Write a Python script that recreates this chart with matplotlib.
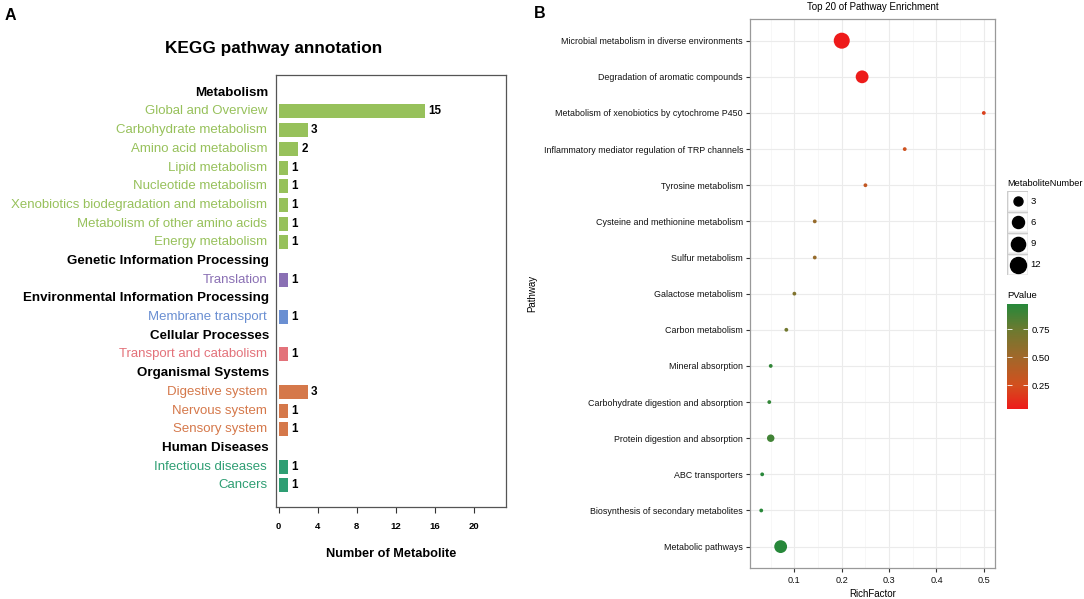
import numpy as np
import matplotlib
matplotlib.use('Agg')
import matplotlib.pyplot as plt
import matplotlib.transforms as mtransforms
from matplotlib.colors import LinearSegmentedColormap, Normalize
from matplotlib.cm import ScalarMappable
from matplotlib.patches import Rectangle

SANS = ['Liberation Sans', 'DejaVu Sans']

# ---- Panel A data: KEGG pathway annotation ----
kegg_labels = ['Metabolism', 'Global and Overview', 'Carbohydrate metabolism',
               'Amino acid metabolism', 'Lipid metabolism', 'Nucleotide metabolism',
               'Xenobiotics biodegradation and metabolism',
               'Metabolism of other amino acids', 'Energy metabolism',
               'Genetic Information Processing', 'Translation',
               'Environmental Information Processing', 'Membrane transport',
               'Cellular Processes', 'Transport and catabolism',
               'Organismal Systems', 'Digestive system', 'Nervous system',
               'Sensory system', 'Human Diseases', 'Infectious diseases', 'Cancers']
# None marks a class header row
kegg_counts = [None, 15, 3, 2, 1, 1, 1, 1, 1, None, 1, None, 1, None, 1,
               None, 3, 1, 1, None, 1, 1]
kegg_group = [0, 0, 0, 0, 0, 0, 0, 0, 0, 1, 1, 2, 2, 3, 3, 4, 4, 4, 4, 5, 5, 5]
group_colors = ['#97C15B', '#8A70B4', '#6A8FD2', '#E3727A', '#D5784A', '#2E9E73']
kegg_ticks = [0, 4, 8, 12, 16, 20]

# ---- Panel B data: pathway enrichment ----
pathways = ['Microbial metabolism in diverse environments',
            'Degradation of aromatic compounds',
            'Metabolism of xenobiotics by cytochrome P450',
            'Inflammatory mediator regulation of TRP channels',
            'Tyrosine metabolism', 'Cysteine and methionine metabolism',
            'Sulfur metabolism', 'Galactose metabolism', 'Carbon metabolism',
            'Mineral absorption', 'Carbohydrate digestion and absorption',
            'Protein digestion and absorption', 'ABC transporters',
            'Biosynthesis of secondary metabolites', 'Metabolic pathways']
rich_factor = [0.2, 0.243, 0.5, 0.333, 0.25, 0.143, 0.143, 0.1, 0.083,
               0.05, 0.047, 0.05, 0.032, 0.030, 0.071]
metab_number = [12, 7, 1, 1, 1, 1, 1, 1, 1, 1, 1, 2, 1, 1, 7]
p_value = [0.036, 0.045, 0.19, 0.27, 0.33, 0.55, 0.55, 0.65, 0.72,
           0.93, 0.93, 0.88, 0.96, 0.96, 0.97]
size_breaks = [3, 6, 9, 12]
p_breaks = [0.25, 0.50, 0.75]

W, H = 1084, 599
fig = plt.figure(figsize=(W / 100, H / 100), dpi=100)


def box(l, t, r, b):
    return [l / W, 1 - b / H, (r - l) / W, (b - t) / H]


# ================= Panel A =================
axA = fig.add_axes(box(276, 75, 506, 507))
trans = mtransforms.blended_transform_factory(axA.transAxes, axA.transData)
for i, (lab, val, g) in enumerate(zip(kegg_labels, kegg_counts, kegg_group)):
    if val is None:
        axA.text(-0.031, i, lab, transform=trans, ha='right', va='center',
                 fontsize=9.6, fontweight='bold', family=SANS, color='black')
    else:
        c = group_colors[g]
        axA.barh(i, val, height=0.75, color=c, left=0)
        axA.text(-0.039, i, lab, transform=trans, ha='right', va='center',
                 fontsize=9.5, family=SANS, color=c)
        axA.annotate(str(val), (val, i), xytext=(2.2, 0), textcoords='offset points',
                     ha='left', va='center', fontsize=8.4, fontweight='bold',
                     family=SANS, color='black')
axA.set_ylim(22.16, -0.95)
axA.set_xlim(-0.28, 23.3)
axA.set_yticks([])
axA.set_xticks(kegg_ticks)
axA.set_xticklabels([str(t) for t in kegg_ticks], fontsize=6.8, fontweight='bold',
                    family=SANS)
axA.tick_params(axis='x', length=4, width=0.8, pad=7, color='#333333')
for s in axA.spines.values():
    s.set_color('#555555')
    s.set_linewidth(0.9)
axA.set_xlabel('Number of Metabolite', fontsize=9.2, fontweight='bold',
               family=SANS, labelpad=12)
fig.text(274 / W, 1 - 48 / H, 'KEGG pathway annotation', ha='center', va='center',
         fontsize=12.4, fontweight='bold', family=SANS)
fig.text(5 / W, 1 - 15 / H, 'A', ha='left', va='center', fontsize=11.5,
         fontweight='bold', family=SANS)

# ================= Panel B =================
cmap = LinearSegmentedColormap.from_list(
    'pv', [(0.0, '#EE1A1A'), (0.23, '#D2501E'), (0.5, '#A0682A'),
           (0.76, '#6C7A30'), (1.0, '#27883A')])
norm = Normalize(vmin=min(p_value), vmax=max(p_value))


def size_pts(n):
    n = np.asarray(n, dtype=float)
    lo, hi = 1, 12
    mm = 1 + 5 * np.sqrt((n - lo) / (hi - lo))
    d_px = 2.44 * mm + 1.36
    return (d_px * 72 / 100) ** 2


axB = fig.add_axes(box(750.3, 19, 994.7, 568.3))
ypos = np.arange(len(pathways))
axB.set_xlim(0.0069, 0.523)
axB.set_ylim(len(pathways) - 1 + 0.6, -0.6)
axB.set_xticks([0.1, 0.2, 0.3, 0.4, 0.5])
axB.set_xticks([0.05, 0.15, 0.25, 0.35, 0.45], minor=True)
axB.grid(which='major', color='#EBEBEB', linewidth=0.8)
axB.grid(which='minor', axis='x', color='#F4F4F4', linewidth=0.5)
axB.set_axisbelow(True)
axB.scatter(rich_factor, ypos, s=size_pts(metab_number), c=p_value, cmap=cmap,
            norm=norm, edgecolors='none', zorder=3)
axB.set_yticks(ypos)
axB.set_yticklabels(pathways, fontsize=6.4, family=SANS, color='#111111')
axB.set_xticklabels(['0.1', '0.2', '0.3', '0.4', '0.5'], fontsize=6.6, family=SANS,
                    color='#111111')
axB.tick_params(which='major', length=3.2, width=0.8, color='#333333', pad=2)
axB.tick_params(which='minor', length=0)
for s in axB.spines.values():
    s.set_color('#999999')
    s.set_linewidth(0.9)
axB.set_xlabel('RichFactor', fontsize=7.0, family=SANS, labelpad=3)
fig.text(532.7 / W, 1 - 293 / H, 'Pathway', rotation=90, ha='center', va='center',
         fontsize=7.0, family=SANS)
fig.text(872.5 / W, 1 - 7 / H, 'Top 20 of Pathway Enrichment', ha='center',
         va='center', fontsize=7.0, family=SANS)
fig.text(540 / W, 1 - 14 / H, 'B', ha='center', va='center', fontsize=11.5,
         fontweight='bold', family=SANS)

# size legend
fig.text(1007.5 / W, 1 - 183.3 / H, 'MetaboliteNumber', ha='left', va='center',
         fontsize=6.6, family=SANS)
axL = fig.add_axes(box(1007, 190.7, 1028.3, 275.3))
axL.set_xlim(0, 1)
axL.set_ylim(len(size_breaks), 0)
axL.axis('off')
for k, n in enumerate(size_breaks):
    axL.add_patch(Rectangle((0, k), 1, 1, facecolor='#F2F2F2', edgecolor='#CCCCCC',
                            linewidth=0.9))
    axL.add_patch(Rectangle((0.08, k + 0.08), 0.84, 0.84, facecolor='white',
                            edgecolor='none'))
    axL.scatter([0.5], [k + 0.5], s=size_pts(n), color='black', zorder=3)
    fig.text(1030.5 / W, 1 - (190.7 + 21.15 * (k + 0.5)) / H, str(n), ha='left',
             va='center', fontsize=6.8, family=SANS)

# colour bar
fig.text(1007.5 / W, 1 - 296 / H, 'PValue', ha='left', va='center', fontsize=6.8,
         family=SANS)
cax = fig.add_axes(box(1007.3, 304.3, 1027.7, 409.3))
cb = fig.colorbar(ScalarMappable(norm=norm, cmap=cmap), cax=cax, ticks=p_breaks)
cb.outline.set_visible(False)
cb.ax.set_yticklabels(['%.2f' % p for p in p_breaks], fontsize=6.8, family=SANS)
cb.ax.tick_params(color='white', direction='in', length=3.5, width=0.6, pad=3,
                  left=True, right=True)

fig.savefig('out.png', dpi=100)
